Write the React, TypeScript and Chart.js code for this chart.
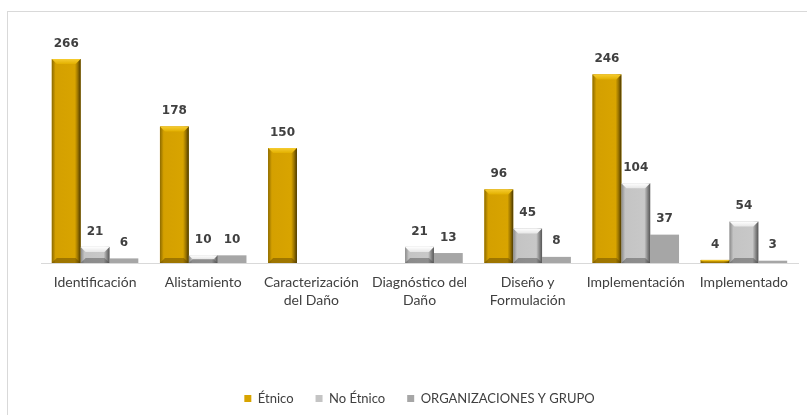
import React, { useEffect, useRef } from "react";
import { Chart, registerables } from "chart.js";

Chart.register(...registerables);

const categories: string[][] = [
  ["Identificación"],
  ["Alistamiento"],
  ["Caracterización", "del Daño"],
  ["Diagnóstico del", "Daño"],
  ["Diseño y", "Formulación"],
  ["Implementación"],
  ["Implementado"],
];
const seriesNames = ["Étnico", "No Étnico", "ORGANIZACIONES Y GRUPO"];
const etnico = [266, 178, 150, null, 96, 246, 4];
const noEtnico = [21, 10, null, 21, 45, 104, 54];
const organizaciones = [6, 10, null, 13, 8, 37, 3];

const GOLD = "#D8A400";
const SILVER = "#C4C4C4";
const GRAY = "#A6A6A6";

const bevelPlugin = {
  id: "bevel",
  afterDatasetsDraw(chart: any) {
    const ctx = chart.ctx;
    ctx.save();
    chart.data.datasets.forEach((ds: any, di: number) => {
      if (di > 1) return;
      const meta = chart.getDatasetMeta(di);
      meta.data.forEach((el: any, i: number) => {
        const v = ds.data[i];
        if (v === null || v === undefined) return;
        const p = el.getProps(["x", "y", "base", "width"], true);
        const L = p.x - p.width / 2;
        const R = p.x + p.width / 2;
        const T = Math.min(p.y, p.base);
        const B = Math.max(p.y, p.base);
        const h = B - T;
        if (h < 0.5) return;
        const b = Math.min(5, h / 2);
        const gold = di === 0;
        const g = ctx.createLinearGradient(L, 0, R, 0);
        if (gold) {
          g.addColorStop(0, "#8C6A00");
          g.addColorStop(0.13, "#D4A000");
          g.addColorStop(0.8, "#D8A400");
          g.addColorStop(0.9, "#9A7400");
          g.addColorStop(1, "#4A3800");
        } else {
          g.addColorStop(0, "#8A8A8A");
          g.addColorStop(0.13, "#C4C4C4");
          g.addColorStop(0.8, "#C8C8C8");
          g.addColorStop(0.9, "#8C8C8C");
          g.addColorStop(1, "#555555");
        }
        ctx.fillStyle = g;
        ctx.fillRect(L, T, R - L, h);
        const tg = ctx.createLinearGradient(0, T, 0, T + b);
        if (gold) {
          tg.addColorStop(0, "#F6CC30");
          tg.addColorStop(1, "#E2B000");
        } else {
          tg.addColorStop(0, "#FFFFFF");
          tg.addColorStop(1, "#E6E6E6");
        }
        ctx.fillStyle = tg;
        ctx.beginPath();
        ctx.moveTo(L, T);
        ctx.lineTo(R, T);
        ctx.lineTo(R - b, T + b);
        ctx.lineTo(L + b, T + b);
        ctx.closePath();
        ctx.fill();
        ctx.fillStyle = gold ? "rgba(90,65,0,0.45)" : "rgba(70,70,70,0.45)";
        ctx.beginPath();
        ctx.moveTo(L, B);
        ctx.lineTo(L + b, B - b);
        ctx.lineTo(R - b, B - b);
        ctx.lineTo(R, B);
        ctx.closePath();
        ctx.fill();
      });
    });
    ctx.restore();
  },
};

const valueLabelPlugin = {
  id: "valueLabels",
  afterDatasetsDraw(chart: any) {
    const ctx = chart.ctx;
    ctx.save();
    ctx.font = "bold 12px 'DejaVu Sans'";
    ctx.fillStyle = "#404040";
    ctx.textAlign = "center";
    ctx.textBaseline = "middle";
    chart.data.datasets.forEach((ds: any, di: number) => {
      const meta = chart.getDatasetMeta(di);
      meta.data.forEach((el: any, i: number) => {
        const v = ds.data[i];
        if (v === null || v === undefined) return;
        const p = el.getProps(["x", "y"], true);
        ctx.fillText(String(v), p.x, p.y - 15.5);
      });
    });
    ctx.restore();
  },
};

export default function App() {
  const ref = useRef<HTMLCanvasElement | null>(null);
  useEffect(() => {
    if (!ref.current) return;
    const chart = new Chart(ref.current, {
      type: "bar",
      data: {
        labels: categories as any,
        datasets: [
          { label: seriesNames[0], data: etnico as any, backgroundColor: GOLD, categoryPercentage: 0.8, barPercentage: 1 },
          { label: seriesNames[1], data: noEtnico as any, backgroundColor: SILVER, categoryPercentage: 0.8, barPercentage: 1 },
          { label: seriesNames[2], data: organizaciones as any, backgroundColor: GRAY, categoryPercentage: 0.8, barPercentage: 1 },
        ],
      },
      options: {
        responsive: false,
        animation: false,
        devicePixelRatio: 1,
        layout: { padding: { left: 19, right: 9, top: 33, bottom: 0 } },
        plugins: {
          legend: {
            position: "bottom",
            labels: {
              boxWidth: 7,
              boxHeight: 7,
              padding: 22,
              color: "#404040",
              font: { family: "Lato", size: 13 },
            },
          },
          tooltip: { enabled: false },
        },
        scales: {
          x: {
            grid: { display: false, drawTicks: false },
            border: { color: "#D9D9D9", width: 1 },
            ticks: {
              color: "#404040",
              font: { family: "Lato", size: 14, lineHeight: 1.3 },
              padding: 10,
              maxRotation: 0,
              autoSkip: false,
            },
            afterFit: (scale: any) => {
              scale.height = 107;
            },
          },
          y: {
            display: false,
            min: 0,
            max: 300,
          },
        },
      },
      plugins: [bevelPlugin, valueLabelPlugin],
    });
    return () => chart.destroy();
  }, []);
  return (
    <div style={{ position: "fixed", left: 0, top: 0, width: 807, height: 415, overflow: "hidden", background: "#fff" }}>
      <div
        style={{
          position: "absolute",
          left: 7,
          top: 11,
          width: 900,
          height: 500,
          border: "1px solid #D9D9D9",
        }}
      />
      <canvas ref={ref} width={785} height={415} style={{ position: "absolute", left: 22, top: 0, width: 785, height: 415 }} />
    </div>
  );
}
